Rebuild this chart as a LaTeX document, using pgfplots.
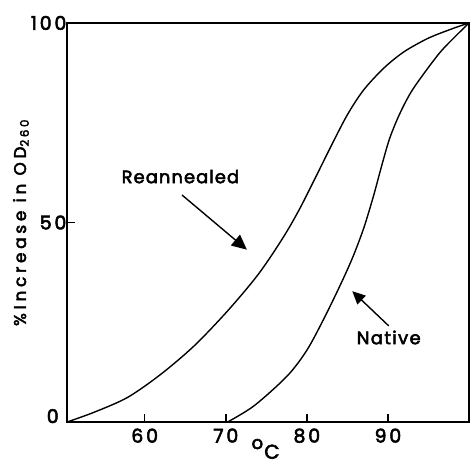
\documentclass[border=0pt]{standalone}
\usepackage{fontspec}
\setmainfont{Poppins}
\newfontfamily\gfont{Poppins}[FakeBold=3]
\usepackage{pgfplots}
\usetikzlibrary{arrows.meta}
\pgfplotsset{compat=1.18}
\begin{document}
\begin{tikzpicture}
\begin{axis}[
  scale only axis,
  width=403bp, height=400bp,
  xmin=50.4, xmax=100, ymin=0, ymax=100,
  axis line style={line width=1.8pt},
  xtick={60,70,80,90}, ytick={50,100},
  tick style={line width=1.6pt, black},
  tick align=inside,
  major tick length=8bp,
  xtick pos=bottom, ytick pos=left,
  /pgf/number format/assume math mode=true,
  tick label style={font=\fontsize{19}{21}\gfont\addfontfeatures{LetterSpace=15}},
  xticklabel style={yshift=-3bp},
  yticklabel style={xshift=3bp},
  clip=false,
]
\addplot[black, line width=1.4pt, smooth, tension=0.5] coordinates {
(50.4,0) (53.8,2.5) (57.9,6.2) (62.0,12.0) (66.1,19.1) (70.2,27.8) (74.0,37.0)
(77.0,46.0) (79.0,53.0) (81.0,61.0) (83.0,69.2) (85.0,77.0) (87.0,83.2)
(89.5,88.7) (92.0,92.8) (95.0,96.2) (98.0,98.6) (100,100)
};
\addplot[black, line width=1.4pt, smooth, tension=0.5] coordinates {
(70.2,0) (73.5,4.1) (77.6,11.6) (80.0,18.0) (82.0,25.5) (84.0,33.8) (85.6,41.0)
(87.0,48.5) (88.2,56.5) (89.2,64.0) (90.2,71.0) (91.4,77.0) (92.8,82.5)
(94.5,87.5) (96.5,92.8) (98.3,96.6) (100,100)
};
\draw[line width=1.4pt, -{Triangle[length=15bp,width=14bp]}] (axis cs:64.6,56.9) -- (axis cs:72.6,43.2);
\draw[line width=1.4pt, -{Triangle[length=13bp,width=12bp]}] (axis cs:90.1,24.1) -- (axis cs:85.6,32.8);
\node[font=\fontsize{18}{20}\gfont\addfontfeatures{LetterSpace=6}] at (axis cs:64.4,61.5) {Reannealed};
\node[font=\fontsize{18}{20}\gfont\addfontfeatures{LetterSpace=8}] at (axis cs:90.1,21.2) {Native};
\node[font=\fontsize{17}{19}\gfont, rotate=90] at ([xshift=-46bp]axis cs:50.4,50)
  {\addfontfeatures{LetterSpace=22}\%Increase in OD\textsubscript{260}};
\node[font=\fontsize{19}{21}\gfont, anchor=east, inner sep=0pt] at ([xshift=-8bp,yshift=6bp]axis cs:50.4,0) {0};
\node[font=\fontsize{18}{20}\gfont, inner sep=0pt] at ([yshift=-22bp]axis cs:73.9,0) {o};
\node[font=\fontsize{20}{22}\gfont, inner sep=0pt, anchor=south] at ([yshift=-37bp]axis cs:75.7,0) {C};
\end{axis}
\pgfresetboundingbox
\path (current axis.south west) ++(-67bp,-42bp) coordinate (A);
\path (current axis.north east) ++(1bp,23bp) coordinate (B);
\useasboundingbox (A) rectangle (B);
\end{tikzpicture}
\end{document}
